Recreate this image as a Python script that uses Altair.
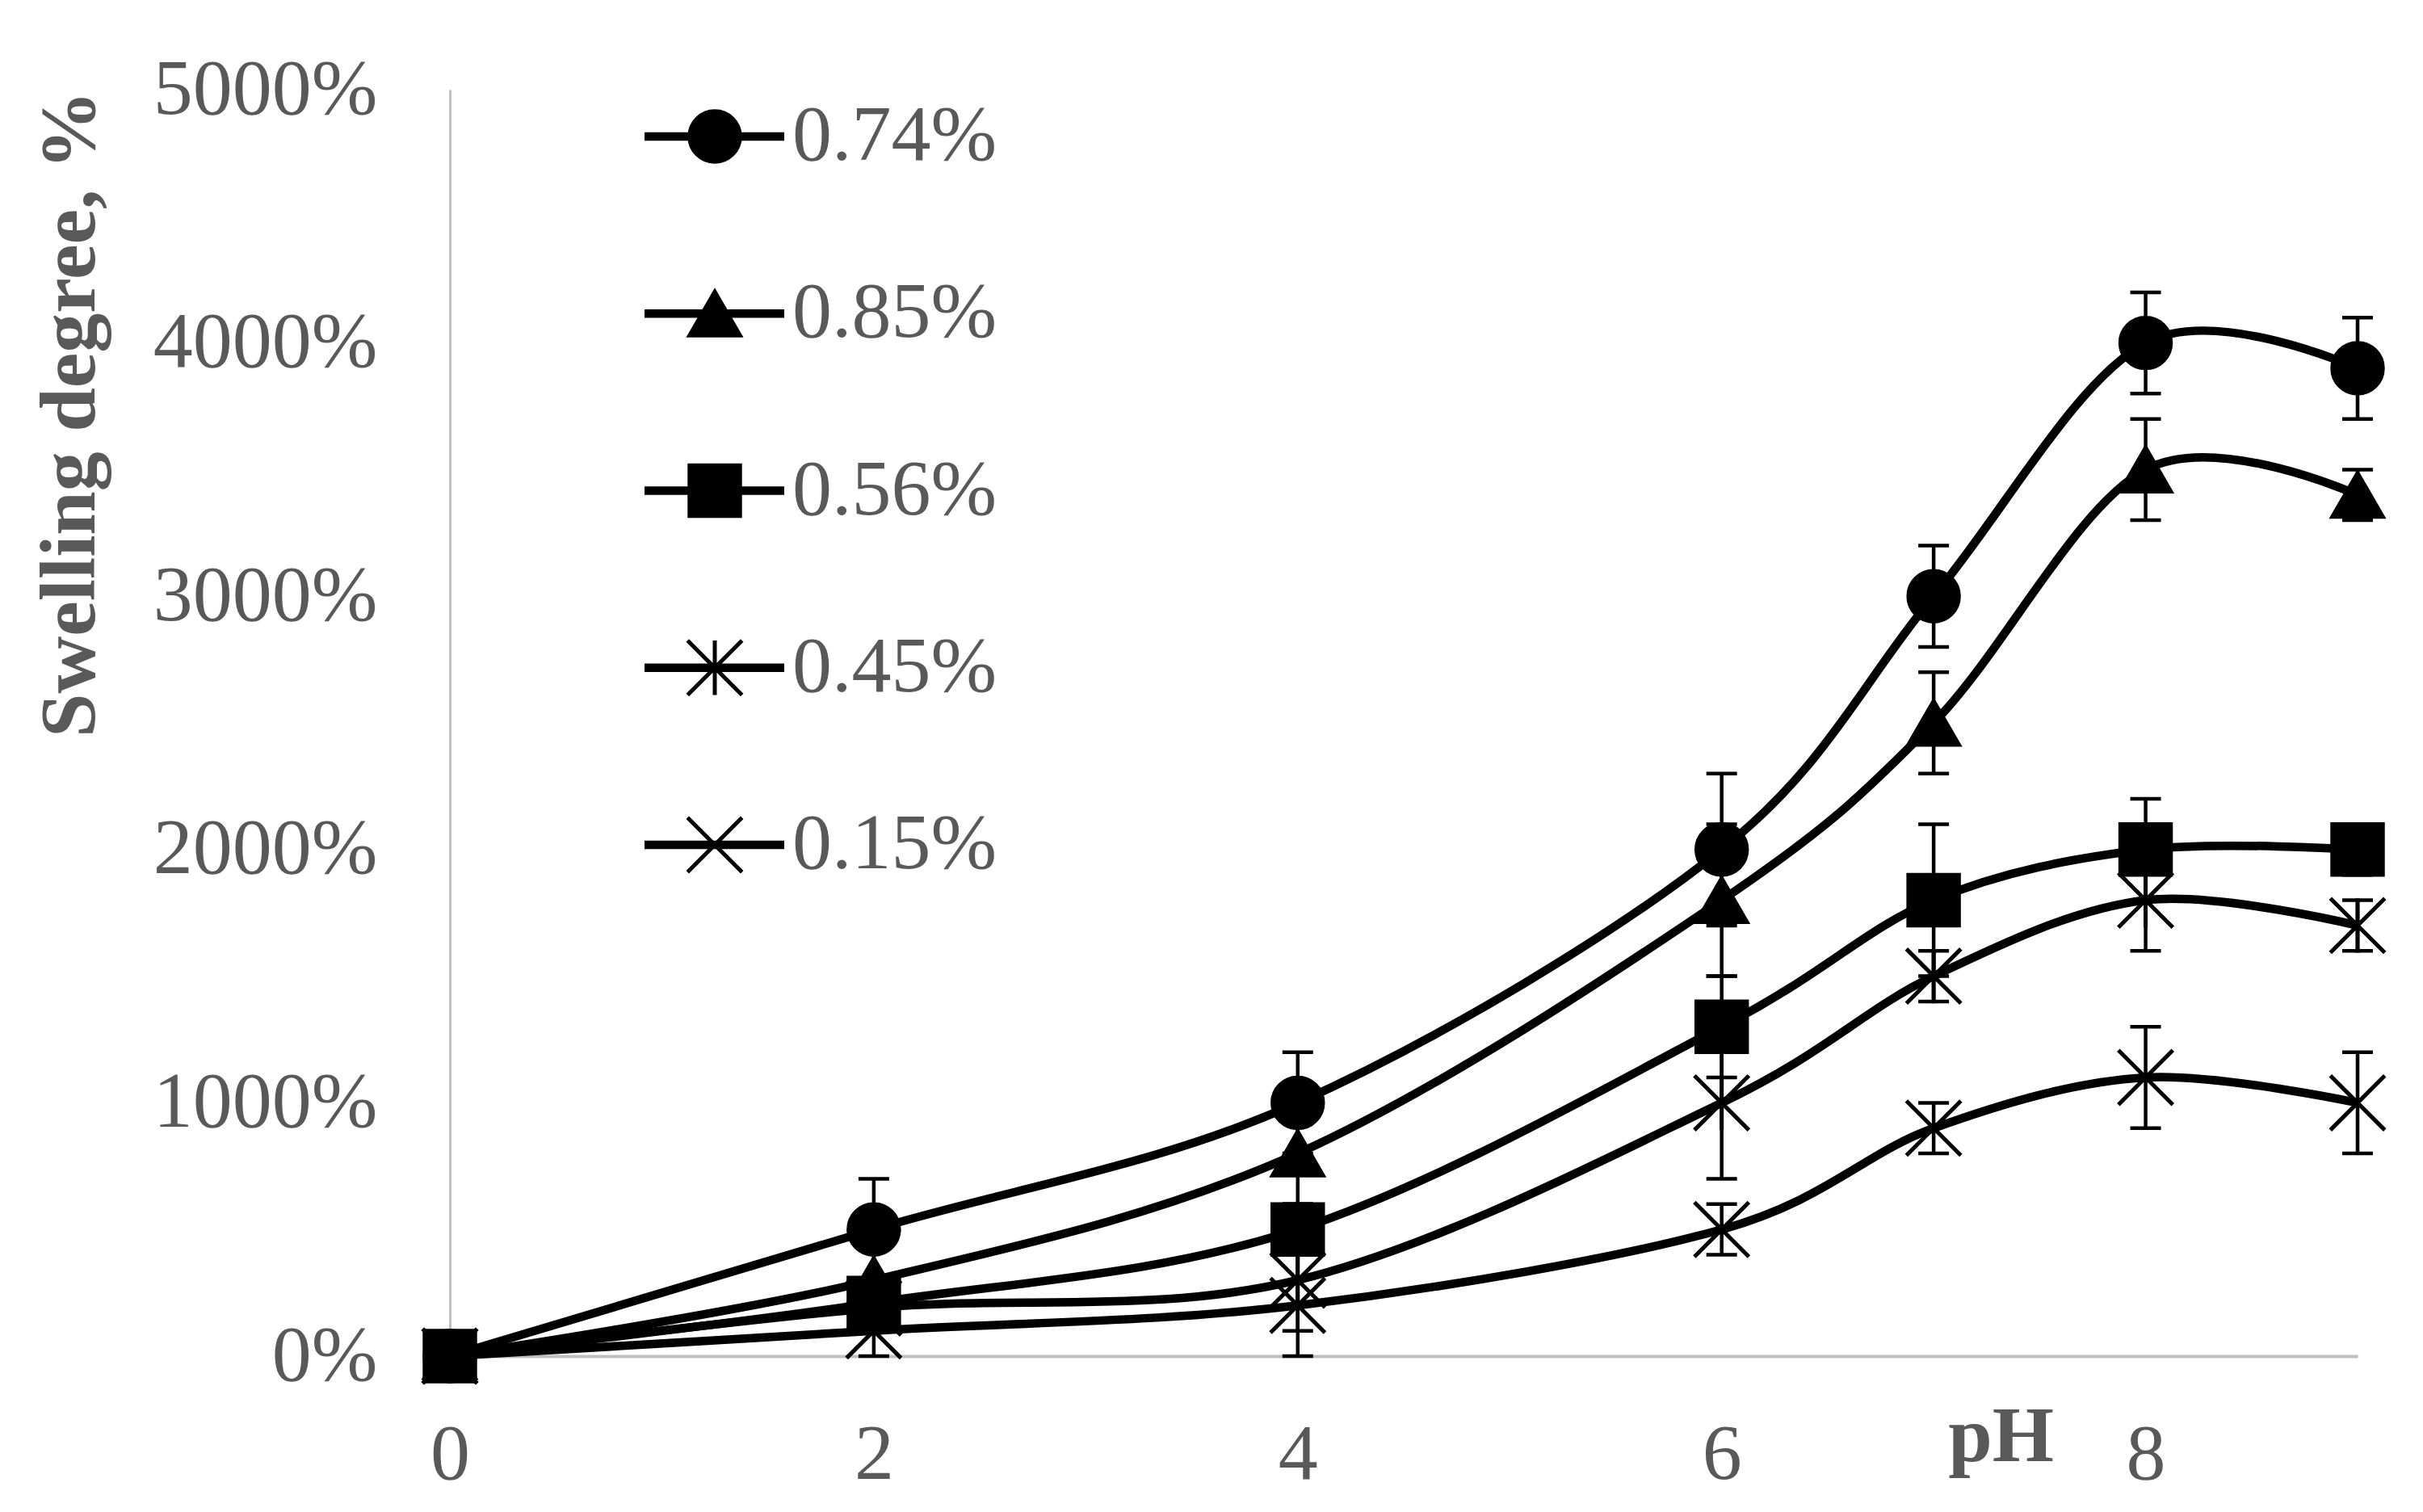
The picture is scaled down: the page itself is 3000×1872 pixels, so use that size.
import altair as alt
import pandas as pd

# ---- data ----
ph = [0, 2, 4, 6, 7, 8, 9]
series_names = ["0.74%", "0.85%", "0.56%", "0.45%", "0.15%"]
s074 = [0, 500, 1000, 2000, 3000, 4000, 3900]
e074 = [0, 200, 200, 300, 200, 200, 200]
s085 = [0, 300, 800, 1800, 2500, 3500, 3400]
e085 = [0, 0, 200, 300, 200, 200, 100]
s056 = [0, 210, 500, 1300, 1800, 2000, 2000]
e056 = [0, 0, 100, 200, 300, 200, 100]
s045 = [0, 190, 300, 1000, 1500, 1800, 1700]
e045 = [0, 0, 200, 300, 100, 200, 100]
s015 = [0, 100, 200, 500, 900, 1100, 1000]
e015 = [0, 100, 200, 100, 100, 200, 200]
y_ticks = [0, 1000, 2000, 3000, 4000, 5000]
x_ticks = [0, 2, 4, 6, 8]

values = [s074, s085, s056, s045, s015]
errors = [e074, e085, e056, e045, e015]

rows = []
for name, vals, errs in zip(series_names, values, errors):
    for p, v, e in zip(ph, vals, errs):
        rows.append({"series": name, "ph": p, "val": v, "err": e,
                     "lo": v - e, "hi": v + e})
df = pd.DataFrame(rows)
err_df = df[df["err"] > 0]
legend_df = pd.DataFrame({"series": series_names})

# ---- styling ----
FONT = "Liberation Serif"
GRAY = "#595959"
FS = 98
W, H = 2362, 1568

star = "M-1.08,-1.08L1.08,1.08M-1.08,1.08L1.08,-1.08M0,-1.08L0,1.08"
xmark = "M-1.08,-1.08L1.08,1.08M-1.08,1.08L1.08,-1.08"
shape_scale = alt.Scale(domain=series_names,
                        range=["circle", "triangle-up", "square", star, xmark])

x_enc = alt.X(
    "ph:Q",
    scale=alt.Scale(domain=[0, 9], nice=False, zero=False),
    axis=alt.Axis(
        values=x_ticks, format="d", grid=False, ticks=False,
        domainColor="#BFBFBF", domainWidth=4,
        labelFont=FONT, labelFontSize=FS, labelColor=GRAY, labelPadding=74,
        labelFlush=False, labelLimit=0,
        title="pH", titleFont=FONT, titleFontSize=FS, titleFontWeight="bold",
        titleColor=GRAY, titleX=1920, titleY=100, titleAlign="center",
        titleBaseline="middle",
    ),
)
y_scale = alt.Scale(domain=[0, 5000], nice=False, zero=True)
y_axis = alt.Axis(
    values=y_ticks, grid=False, ticks=False,
    domainColor="#BFBFBF", domainWidth=3,
    labelExpr="datum.value + '%'", labelLimit=0,
    labelFont=FONT, labelFontSize=FS, labelColor=GRAY, labelPadding=90,
    title="Swelling degree, %", titleFont=FONT, titleFontSize=FS,
    titleFontWeight="bold", titleColor=GRAY, titleAngle=270, titleLimit=0,
    titleX=-470, titleY=401, titleAlign="center", titleBaseline="middle",
)

base = alt.Chart(df)

err_rules = alt.Chart(err_df).mark_rule(color="black", strokeWidth=4.5).encode(
    x=x_enc, y=alt.Y("lo:Q", scale=y_scale, axis=y_axis), y2="hi:Q")
cap_lo = alt.Chart(err_df).mark_tick(
    orient="horizontal", color="black", size=38, thickness=4.5, opacity=1
).encode(x=x_enc, y=alt.Y("lo:Q", scale=y_scale))
cap_hi = alt.Chart(err_df).mark_tick(
    orient="horizontal", color="black", size=38, thickness=4.5, opacity=1
).encode(x=x_enc, y=alt.Y("hi:Q", scale=y_scale))

lines = base.mark_line(interpolate="cardinal", color="black",
                       strokeWidth=10.5).encode(
    x=x_enc, y=alt.Y("val:Q", scale=y_scale), detail="series:N")

points = base.mark_point(filled=True, fill="black", stroke="black",
                         strokeWidth=5, size=3900, opacity=1).encode(
    x=x_enc, y=alt.Y("val:Q", scale=y_scale),
    shape=alt.Shape("series:N", scale=shape_scale, legend=None))

main = alt.layer(err_rules, cap_lo, cap_hi, lines, points)

# ---- legend drawn as its own layer ----
leg_y = alt.Y("series:N", sort=series_names,
              scale=alt.Scale(type="point", domain=series_names,
                              range=[58, 935], padding=0),
              axis=None)
leg_line = alt.Chart(legend_df).mark_rule(color="black", strokeWidth=10.5).encode(
    x=alt.value(241), x2=alt.value(414), y=leg_y)
leg_pt = alt.Chart(legend_df).mark_point(
    filled=True, fill="black", stroke="black", strokeWidth=5,
    size=3900, opacity=1).encode(
    x=alt.value(328), y=leg_y,
    shape=alt.Shape("series:N", scale=shape_scale, legend=None))
leg_txt = alt.Chart(legend_df).mark_text(
    align="left", baseline="middle", font=FONT, fontSize=FS, color=GRAY
).encode(x=alt.value(424), y=leg_y, text="series:N")
legend = alt.layer(leg_line, leg_pt, leg_txt)

chart = alt.layer(main, legend).resolve_scale(y="independent").properties(
    width=W, height=H,
    autosize=alt.AutoSizeParams(type="none"),
    padding={"left": 549, "top": 103, "right": 73, "bottom": 185},
    background="white",
).configure_view(stroke=None)

chart.save("out.html", embed_options={"renderer": "svg", "actions": False})
